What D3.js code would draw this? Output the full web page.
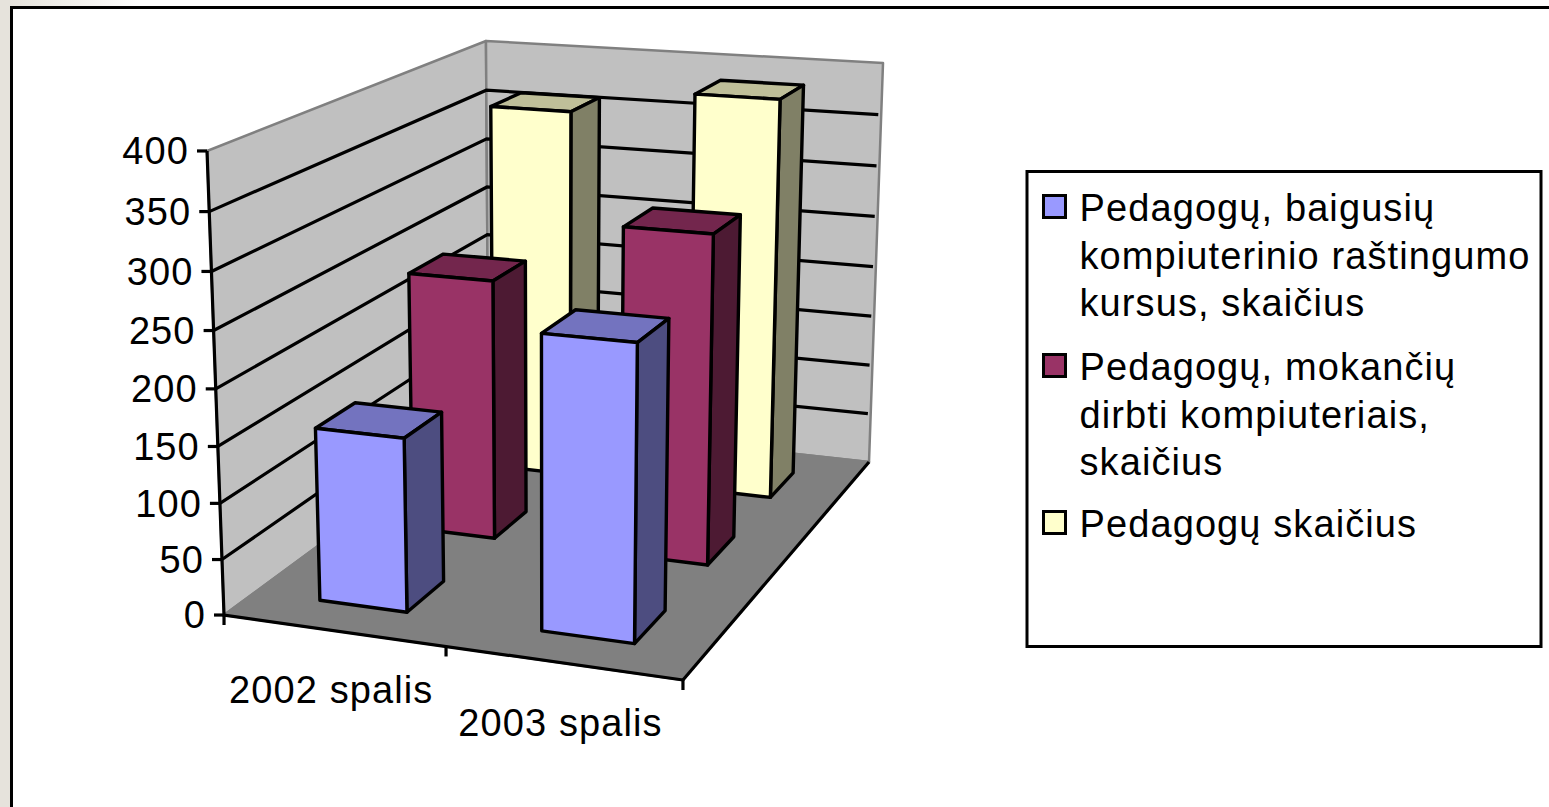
<!DOCTYPE html>
<html>
<head>
<meta charset="utf-8">
<script src="https://cdn.jsdelivr.net/npm/d3@7"></script>
<style>
    html, body { margin: 0; padding: 0; background: #fff; }
    svg { display: block; }
    text { font-family: "Liberation Sans", Arial, sans-serif; fill: #000; font-size: 38px; letter-spacing: 1.1px; }
</style>
</head>
<body>
<svg id="chart" width="1549" height="807"></svg>
<script>
const categories = ['2002 spalis', '2003 spalis'];
const seriesNames = ['Pedagogų, baigusių kompiuterinio raštingumo kursus, skaičius', 'Pedagogų, mokančių dirbti kompiuteriais, skaičius', 'Pedagogų skaičius'];
const legendLines = [
    ['Pedagogų, baigusių', 'kompiuterinio raštingumo', 'kursus, skaičius'],
    ['Pedagogų, mokančių', 'dirbti kompiuteriais,', 'skaičius'],
    ['Pedagogų skaičius']
];
const trained = [155, 257];
const skilled = [243, 302];
const total = [361, 385];
const seriesValues = [trained, skilled, total];
const valueTicks = [0, 50, 100, 150, 200, 250, 300, 350, 400];

const frontColors = ['#9999ff', '#993366', '#ffffcc'];
const sideColors = ['#4d4d80', '#4d1a33', '#808066'];
const topColors = ['#7373bf', '#73264d', '#bfbf99'];

// box corners on screen: [category, depth, value] -> [x, y]
const anchors = [
    [[0, 0, 0], [224, 615]],
    [[1, 0, 0], [683, 680]],
    [[1, 1, 0], [869, 462]],
    [[0, 0, 1], [207, 151]],
    [[0, 1, 1], [486, 41]],
    [[1, 1, 1], [883, 63]]
];

// least squares fit of a projective camera through the anchors
function fitCamera(points) {
    const rows = [], rhs = [];
    points.forEach(([[a, b, c], [sx, sy]]) => {
        const x = sx / 1000, y = sy / 1000;
        rows.push([a, b, c, 1, 0, 0, 0, 0, -x * a, -x * b, -x * c]);
        rhs.push(x);
        rows.push([0, 0, 0, 0, a, b, c, 1, -y * a, -y * b, -y * c]);
        rhs.push(y);
    });
    const n = 11;
    const m = d3.range(n).map(i => {
        const row = d3.range(n).map(j => d3.sum(rows, r => r[i] * r[j]));
        row.push(d3.sum(rows, (r, k) => r[i] * rhs[k]));
        return row;
    });
    for (let i = 0; i < n; i++) {
        let pivot = i;
        for (let k = i + 1; k < n; k++) {
            if (Math.abs(m[k][i]) > Math.abs(m[pivot][i])) pivot = k;
        }
        [m[i], m[pivot]] = [m[pivot], m[i]];
        for (let k = 0; k < n; k++) {
            if (k === i) continue;
            const f = m[k][i] / m[i][i];
            for (let j = i; j <= n; j++) m[k][j] -= f * m[i][j];
        }
    }
    return d3.range(n).map(i => m[i][n] / m[i][i]);
}

const cam = fitCamera(anchors);
const project = (a, b, c) => {
    const d = cam[8] * a + cam[9] * b + cam[10] * c + 1;
    return [
        1000 * (cam[0] * a + cam[1] * b + cam[2] * c + cam[3]) / d,
        1000 * (cam[4] * a + cam[5] * b + cam[6] * c + cam[7]) / d
    ];
};

const xScale = d3.scaleBand().domain(categories).range([0, 1]).paddingInner(0.6).paddingOuter(0.3);
const zScale = d3.scaleBand().domain(seriesNames).range([0, 1]).paddingInner(0.6).paddingOuter(0.3);
const yScale = d3.scaleLinear().domain([0, 400]).range([0, 1]);

const line = d3.line();
const svg = d3.select('#chart');

// slide background and frame
const defs = svg.append('defs');
const fade = defs.append('linearGradient').attr('id', 'topFade');
fade.append('stop').attr('offset', '0').attr('stop-color', '#e6e3dc');
fade.append('stop').attr('offset', '1').attr('stop-color', '#ffffff');
svg.append('rect').attr('x', 0).attr('y', 0).attr('width', 1549).attr('height', 807).attr('fill', '#fff');
svg.append('rect').attr('x', 0).attr('y', 0).attr('width', 10).attr('height', 807).attr('fill', '#e6e3dc');
svg.append('rect').attr('x', 10).attr('y', 0).attr('width', 130).attr('height', 6).attr('fill', 'url(#topFade)');
svg.append('path').attr('d', 'M11.5,807V7.5H1549').attr('fill', 'none').attr('stroke', '#000').attr('stroke-width', 3);

// walls and floor
const walls = svg.append('g');
const poly = (pts, fill) => walls.append('path').attr('d', line(pts) + 'Z').attr('fill', fill).attr('stroke', '#808080').attr('stroke-width', 2.5).attr('stroke-linejoin', 'round');
poly([project(0, 0, 0), project(0, 1, 0), project(0, 1, 1), project(0, 0, 1)], '#c0c0c0');
poly([project(0, 1, 0), project(1, 1, 0), project(1, 1, 1), project(0, 1, 1)], '#c0c0c0');
poly([project(0, 0, 0), project(1, 0, 0), project(1, 1, 0), project(0, 1, 0)], '#808080');

// gridlines run along the left wall and the back wall
const gridTicks = valueTicks.filter(t => t > 0 && t < 400);
walls.selectAll('path.grid').data(gridTicks).join('path')
    .attr('class', 'grid')
    .attr('d', t => line([project(0, 0, yScale(t)), project(0, 1, yScale(t)), project(0.993, 1, yScale(t))]))
    .attr('fill', 'none')
    .attr('stroke', '#000')
    .attr('stroke-width', 3.2);

// axis lines
const axes = svg.append('g').attr('fill', 'none').attr('stroke', '#000').attr('stroke-width', 3.2);
axes.append('path').attr('d', line([project(0, 0, 1), project(0, 0, 0), project(1, 0, 0)]));
axes.append('path').attr('d', line([project(1, 0, 0), project(1, 1, 0)]));
axes.selectAll('path.ytick').data(valueTicks).join('path')
    .attr('class', 'ytick')
    .attr('d', t => {
        const [px, py] = project(0, 0, yScale(t));
        return line([[px - 10, py], [px, py]]);
    });
axes.selectAll('path.xtick').data([0, 0.5, 1]).join('path')
    .attr('class', 'xtick')
    .attr('d', t => {
        const [px, py] = project(t, 0, 0);
        return line([[px, py], [px, py + 10]]);
    });

// bars, back series first
const bars = [];
d3.range(seriesNames.length - 1, -1, -1).forEach(s => {
    categories.forEach((cat, c) => {
        bars.push({s, cat, value: seriesValues[s][c]});
    });
});
const barGroups = svg.append('g').selectAll('g').data(bars).join('g')
    .attr('stroke', '#000')
    .attr('stroke-width', 3.4)
    .attr('stroke-linejoin', 'round');
const corners = d => {
    const a0 = xScale(d.cat), a1 = a0 + xScale.bandwidth();
    const b0 = zScale(seriesNames[d.s]), b1 = b0 + zScale.bandwidth();
    return {a0, a1, b0, b1, h: yScale(d.value)};
};
barGroups.append('path').attr('fill', d => topColors[d.s]).attr('d', d => {
    const k = corners(d);
    return line([project(k.a0, k.b0, k.h), project(k.a1, k.b0, k.h), project(k.a1, k.b1, k.h), project(k.a0, k.b1, k.h)]) + 'Z';
});
barGroups.append('path').attr('fill', d => sideColors[d.s]).attr('d', d => {
    const k = corners(d);
    return line([project(k.a1, k.b0, 0), project(k.a1, k.b1, 0), project(k.a1, k.b1, k.h), project(k.a1, k.b0, k.h)]) + 'Z';
});
barGroups.append('path').attr('fill', d => frontColors[d.s]).attr('d', d => {
    const k = corners(d);
    return line([project(k.a0, k.b0, 0), project(k.a1, k.b0, 0), project(k.a1, k.b0, k.h), project(k.a0, k.b0, k.h)]) + 'Z';
});

// tick labels
svg.append('g').selectAll('text').data(valueTicks).join('text')
    .attr('x', t => project(0, 0, yScale(t))[0] - 18)
    .attr('y', t => project(0, 0, yScale(t))[1])
    .attr('dy', '0.35em')
    .attr('text-anchor', 'end')
    .text(t => t);
svg.append('g').selectAll('text').data(categories).join('text')
    .attr('x', d => project(xScale(d) + xScale.bandwidth() / 2, 0, 0)[0] - 2)
    .attr('y', d => project(xScale(d) + xScale.bandwidth() / 2, 0, 0)[1] + 73)
    .attr('text-anchor', 'middle')
    .text(d => d);

// legend
const legend = svg.append('g');
legend.append('rect').attr('x', 1027).attr('y', 171.5).attr('width', 514).attr('height', 475)
    .attr('fill', '#fff').attr('stroke', '#000').attr('stroke-width', 3);
const entryTops = [194, 353, 510];
const legendItems = legend.selectAll('g').data(seriesNames).join('g')
    .attr('transform', (d, i) => `translate(1043.5,${entryTops[i]})`);
legendItems.append('rect')
    .attr('y', 1.5)
    .attr('width', 22).attr('height', 22)
    .attr('fill', (d, i) => frontColors[i])
    .attr('stroke', '#000').attr('stroke-width', 3);
legendItems.each(function (d, i) {
    d3.select(this).selectAll('text').data(legendLines[i]).join('text')
        .attr('x', 36)
        .attr('y', (t, j) => 27 + j * 47.5)
        .text(t => t);
});
</script>
</body>
</html>
